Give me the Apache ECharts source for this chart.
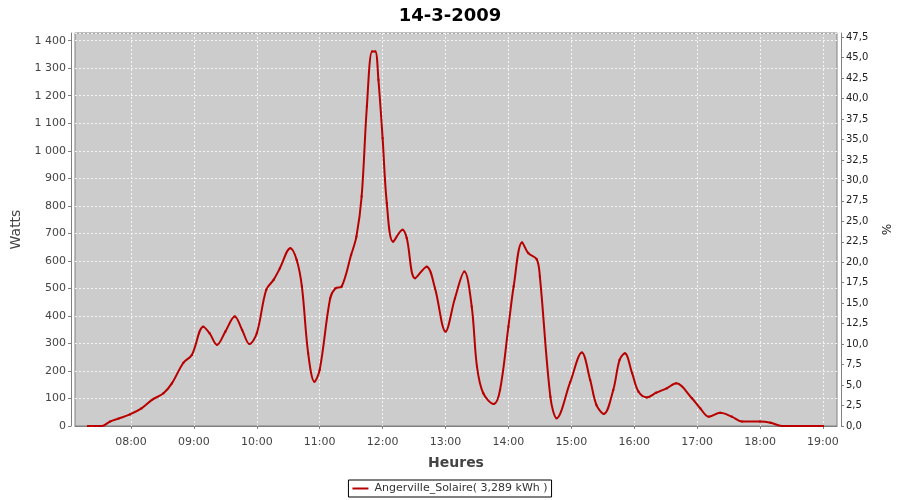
<!DOCTYPE html>
<html><head><meta charset="utf-8">
<script src="https://cdn.jsdelivr.net/npm/echarts@6/dist/echarts.min.js"></script>
<style>html,body{margin:0;padding:0;background:#fff}#c{width:900px;height:500px}</style>
</head><body><div id="c"></div>
<script>
const chartTitle = '14-3-2009';
const seriesName = 'Angerville_Solaire( 3,289 kWh )';
const times = ['07:19','07:32','07:40','07:48','07:59','08:10','08:20','08:31','08:39','08:50','08:58','09:09','09:15','09:22','09:30','09:39','09:46','09:53','10:00','10:09','10:16','10:22','10:32','10:38','10:43','10:49','10:55','11:00','11:10','11:15','11:21','11:30','11:35','11:40','11:45','11:50','11:53','11:56','12:00','12:04','12:10','12:19','12:23','12:31','12:42','12:50','13:00','13:09','13:18','13:25','13:30','13:36','13:46','13:52','14:00','14:05','14:13','14:19','14:27','14:30','14:40','14:46','14:59','15:10','15:18','15:24','15:31','15:40','15:46','15:51','15:58','16:04','16:12','16:21','16:31','16:40','16:55','17:03','17:11','17:22','17:33','17:43','18:00','18:10','18:21','19:00'];
const watts = [0,0,16,27,42,64,95,119,155,230,258,361,337,295,343,398,349,298,337,495,531,573,646,604,507,264,161,204,464,500,507,622,688,834,1161,1361,1361,1258,1046,810,670,713,683,537,579,500,343,464,561,434,216,119,80,131,361,507,667,628,606,543,107,28,160,267,167,76,44,131,240,264,192,125,104,121,137,155,101,64,34,48,34,16,16,12,0,0];
const hourLabels = ['08:00','09:00','10:00','11:00','12:00','13:00','14:00','15:00','16:00','17:00','18:00','19:00'];

const toMin = s => { const p = s.split(':').map(Number); return p[0] * 60 + p[1]; };
const fmtTime = v => { const h = Math.floor(v / 60), m = Math.round(v % 60); return String(h).padStart(2, '0') + ':' + String(m).padStart(2, '0'); };
const hourVals = hourLabels.map(toMin);
const data = times.map((t, i) => [toMin(t), watts[i]]);

const font = 'DejaVu Sans';
const axisGray = '#808080';
const labelColor = '#444444';
const gridLine = { show: true, lineStyle: { color: '#f4f4f4', type: [2, 2], width: 1 } };

const chart = echarts.init(document.getElementById('c'), null, { renderer: 'canvas' });
chart.setOption({
  animation: false,
  backgroundColor: '#ffffff',
  textStyle: { fontFamily: font },
  title: {
    text: chartTitle, left: 'center', top: 2,
    textStyle: { fontFamily: font, fontSize: 18, fontWeight: 'bold', color: '#000' }
  },
  grid: {
    left: 75, right: 63, top: 33, bottom: 74, show: true,
    backgroundColor: '#cccccc', borderColor: axisGray, borderWidth: 1
  },
  legend: {
    data: [{ name: seriesName, icon: 'rect' }], bottom: 3, left: 'center',
    borderColor: '#000', borderWidth: 1, borderRadius: 0, padding: [3, 4],
    backgroundColor: '#fff', itemWidth: 16, itemHeight: 2, itemGap: 4,
    textStyle: { fontFamily: font, fontSize: 11, color: '#333', padding: [0, 0, 0, 1] }
  },
  xAxis: {
    type: 'value', min: 426.6, max: 1153.4, offset: 4,
    name: 'Heures', nameLocation: 'middle', nameGap: 26,
    nameTextStyle: { fontFamily: font, fontSize: 14, fontWeight: 'bold', color: labelColor },
    axisLine: { show: true, lineStyle: { color: axisGray } },
    axisTick: { show: true, inside: false, length: 3, customValues: hourVals, lineStyle: { color: axisGray } },
    axisLabel: { customValues: hourVals, formatter: fmtTime, color: labelColor, fontSize: 11, margin: 7 },
    splitLine: gridLine
  },
  yAxis: [{
    type: 'value', min: 0, max: 1428, interval: 100, offset: 4, position: 'left',
    name: 'Watts', nameLocation: 'middle', nameGap: 38,
    nameTextStyle: { fontFamily: font, fontSize: 14, fontWeight: 500, color: labelColor },
    axisLine: { show: true, lineStyle: { color: axisGray } },
    axisTick: { show: true, length: 3, lineStyle: { color: axisGray } },
    axisLabel: {
      color: labelColor, fontSize: 11, margin: 5, showMaxLabel: false,
      formatter: v => String(Math.round(v)).replace(/\B(?=(\d{3})+(?!\d))/g, ' ')
    },
    splitLine: gridLine
  }, {
    type: 'value', min: 0, max: 48, interval: 2.5, offset: 4, position: 'right',
    name: '%', nameLocation: 'middle', nameGap: 36, nameRotate: -90,
    nameTextStyle: { fontFamily: font, fontSize: 12, color: '#222' },
    axisLine: { show: true, lineStyle: { color: axisGray } },
    axisTick: { show: true, length: 3, lineStyle: { color: axisGray } },
    axisLabel: {
      color: '#222', fontSize: 10, margin: 5, showMaxLabel: false,
      formatter: v => v.toFixed(1).replace('.', ',')
    },
    splitLine: { show: false }
  }],
  series: [{
    name: seriesName, type: 'line', yAxisIndex: 0, data: data,
    smooth: 0.35, symbol: 'rect', symbolSize: 2, showSymbol: true,
    lineStyle: { color: '#b80000', width: 2 },
    itemStyle: { color: '#b80000' }
  }]
});
</script>
</body></html>
